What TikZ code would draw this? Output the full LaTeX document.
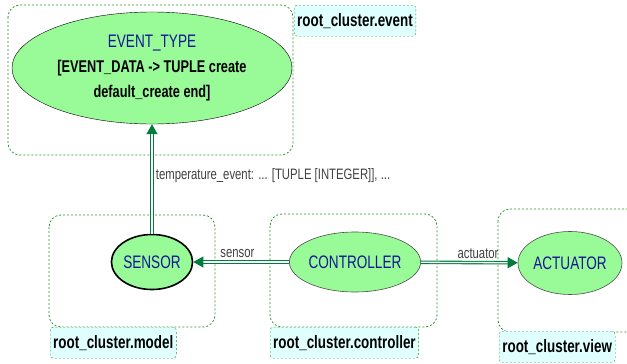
\documentclass[tikz,border=0pt]{standalone}
\usepackage{fontspec}
\setmainfont{Liberation Sans}[FakeStretch=0.75]
\usetikzlibrary{positioning, shapes.geometric, arrows.meta}
\definecolor{classfill}{RGB}{152,251,152}
\definecolor{classtext}{RGB}{20,20,150}
\definecolor{clusterline}{RGB}{40,150,40}
\definecolor{tagfill}{RGB}{224,255,255}
\definecolor{linkgreen}{RGB}{0,125,60}
\tikzset{
  class/.style={ellipse, draw, fill=classfill, text=classtext, inner sep=0pt,
    font=\fontsize{18.1}{21}\selectfont},
  cluster/.style={draw=clusterline, dash pattern=on 2pt off 2pt,
    rounded corners=12pt, line width=0.8pt},
  tag/.style={draw=clusterline, dash pattern=on 2pt off 2pt, rounded corners=3pt,
    fill=tagfill, anchor=north west, minimum height=31pt, inner xsep=3pt,
    font=\fontsize{17.9}{21}\selectfont\bfseries},
  link/.style={draw=linkgreen, line width=1.1pt, double=white, double distance=1.3pt,
    -{Triangle[length=10pt, width=11pt, fill=linkgreen]}},
  linklabel/.style={font=\fontsize{15.1}{17}\selectfont, text=black!75}
}
\begin{document}
\begin{tikzpicture}[x=1pt, y=-1pt]
  \useasboundingbox (0,0) rectangle (627,364);

  % clusters
  \draw[cluster] (8,5) rectangle (293,155);
  \draw[cluster] (49,215) rectangle (215,327);
  \draw[cluster] (270,214) rectangle (437,327);
  \draw[cluster] (498,209) rectangle (640,332);

  % cluster names
  \node[tag, minimum width=121pt] (eventtag) at (294,5) {root\_cluster.event};
  \node[tag, minimum width=125pt] (modeltag) at (50,327) {root\_cluster.model};
  \node[tag, minimum width=147pt] (controllertag) at (270,327) {root\_cluster.controller};
  \node[tag, minimum width=116pt] (viewtag) at (499,331) {root\_cluster.view};

  % classes
  \node[class, text=black, align=center, minimum width=280pt, minimum height=112pt,
    font=\fontsize{17}{25}\selectfont] (event) at (152,68)
    {{\color{classtext}\fontsize{18.1}{25}\selectfont EVENT\_TYPE}\\
     {\bfseries [EVENT\_DATA -> TUPLE create}\\
     {\bfseries default\_create end]}};
  \node[class, line width=1.6pt, minimum width=81pt, minimum height=55pt] (sensor) at (152,262) {SENSOR};
  \node[class, draw=black!70, line width=.6pt, minimum width=130pt, minimum height=60pt] (controller) at (355,262) {CONTROLLER};
  \node[class, draw=black!70, line width=.6pt, minimum width=104pt, minimum height=63pt] (actuator) at (570,263) {ACTUATOR};

  % features
  \draw[link] (sensor) -- node[linklabel, right, pos=.53] {temperature\_event: ... [TUPLE [INTEGER]], ...} (event);
  \draw[link] (controller) -- node[linklabel, above, pos=.54] {sensor} (sensor);
  \draw[link] (controller) -- node[linklabel, above, pos=.59] {actuator} (actuator);
\end{tikzpicture}
\end{document}
